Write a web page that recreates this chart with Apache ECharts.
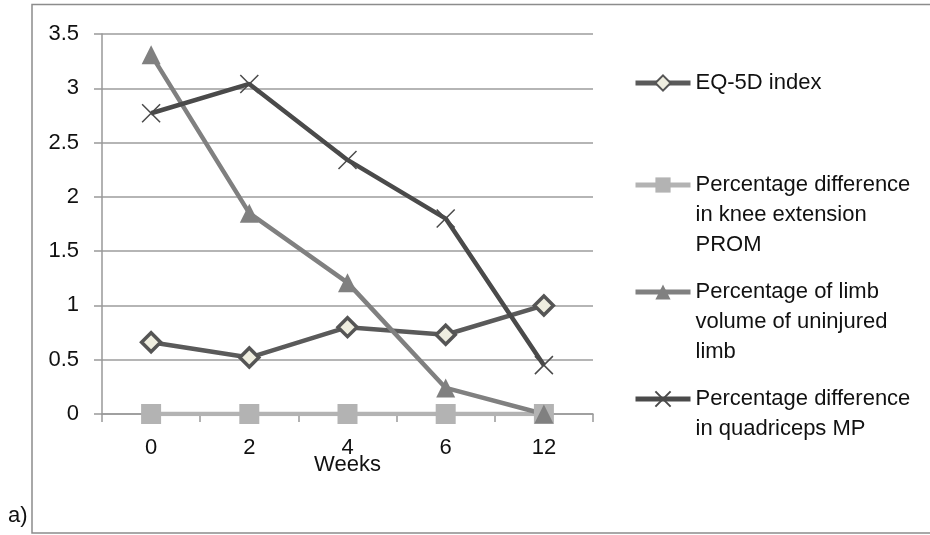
<!DOCTYPE html>
<html>
<head>
<meta charset="utf-8">
<script src="https://cdn.jsdelivr.net/npm/echarts@6/dist/echarts.min.js"></script>
<style>
  html, body { margin: 0; padding: 0; background: #fff; }
  #chart { width: 930px; height: 535px; }
</style>
</head>
<body>
<div id="chart"></div>
<script>
// Outcome measures over the rehabilitation period
const weeks = ['0', '2', '4', '6', '12'];
const eq5dIndex = [0.66, 0.52, 0.80, 0.73, 1.00];
const kneeExtensionProm = [0, 0, 0, 0, 0];
const limbVolume = [3.31, 1.85, 1.21, 0.24, 0];
const quadricepsMp = [2.77, 3.04, 2.34, 1.80, 0.45];

const seriesNames = [
  'EQ-5D index',
  'Percentage difference\nin knee extension\nPROM',
  'Percentage of limb\nvolume of uninjured\nlimb',
  'Percentage difference\nin quadriceps MP'
];

const FONT = '"Liberation Sans", Arial, sans-serif';
const FS = 22;
const LH = 30;
const legendIconCenters = [83, 185, 292, 399];
const ITEM_H = 19;

const chart = echarts.init(document.getElementById('chart'), null, { renderer: 'canvas' });

// One legend block per series; blank leading lines keep the icon level with the first text line
function legendFor(name, center) {
  const n = name.split('\n').length;
  return {
    orient: 'vertical',
    left: 633,
    top: center - (2 * n - 1) * LH / 2,
    padding: 0,
    itemWidth: 55,
    itemHeight: ITEM_H,
    formatter: (nm) => '\n'.repeat(n - 1) + nm,
    lineStyle: { width: 5 },
    textStyle: { fontFamily: FONT, fontSize: FS, lineHeight: LH, color: '#111' },
    data: [name]
  };
}

const option = {
  backgroundColor: '#fff',
  animation: false,
  grid: { left: 102, right: 337, top: 34, bottom: 121, containLabel: false },
  legend: seriesNames.map((nm, i) => legendFor(nm, legendIconCenters[i])),
  xAxis: {
    type: 'category',
    data: weeks,
    boundaryGap: true,
    name: 'Weeks',
    nameLocation: 'middle',
    nameGap: 40,
    nameMoveOverlap: false,
    nameTextStyle: { fontFamily: FONT, fontSize: FS, color: '#111' },
    axisLine: { show: true, lineStyle: { color: '#999', width: 1.5 } },
    axisTick: { show: true, length: 8, lineStyle: { color: '#999', width: 1.5 } },
    axisLabel: { fontFamily: FONT, fontSize: FS, color: '#111', margin: 23 },
    splitLine: { show: false }
  },
  yAxis: {
    type: 'value',
    min: 0,
    max: 3.5,
    interval: 0.5,
    axisLine: { show: true, lineStyle: { color: '#999', width: 1.5 } },
    axisTick: { show: true, length: 8, lineStyle: { color: '#999', width: 1.5 } },
    axisLabel: { fontFamily: FONT, fontSize: FS, color: '#111', margin: 23 },
    splitLine: { show: true, lineStyle: { color: '#9c9c9c', width: 1.5 } }
  },
  series: [
    {
      name: seriesNames[0],
      type: 'line',
      data: eq5dIndex,
      symbol: 'diamond',
      symbolSize: 19,
      lineStyle: { color: '#5a5a5a', width: 4.5 },
      itemStyle: { color: '#efeee0', borderColor: '#555', borderWidth: 3.5 }
    },
    {
      name: seriesNames[1],
      type: 'line',
      data: kneeExtensionProm,
      symbol: 'rect',
      symbolSize: 20,
      lineStyle: { color: '#b3b3b3', width: 4.5 },
      itemStyle: { color: '#b3b3b3' }
    },
    {
      name: seriesNames[2],
      type: 'line',
      data: limbVolume,
      symbol: 'triangle',
      symbolSize: 19,
      lineStyle: { color: '#808080', width: 4.5 },
      itemStyle: { color: '#808080' }
    },
    {
      name: seriesNames[3],
      type: 'line',
      data: quadricepsMp,
      symbol: 'path://M0,0L10,10M0,10L10,0',
      symbolSize: 18,
      lineStyle: { color: '#4a4a4a', width: 4.5 },
      itemStyle: { color: '#4a4a4a', borderColor: '#4a4a4a', borderWidth: 1.5 }
    }
  ],
  graphic: [
    {
      type: 'rect',
      shape: { x: 32, y: 4.5, width: 920, height: 528.5 },
      style: { fill: 'none', stroke: '#8c8c8c', lineWidth: 1.5 },
      silent: true
    },
    {
      type: 'text',
      left: 8,
      top: 505,
      style: { text: 'a)', fontFamily: FONT, fontSize: FS, fill: '#111' }
    }
  ]
};

chart.setOption(option);
</script>
</body>
</html>
